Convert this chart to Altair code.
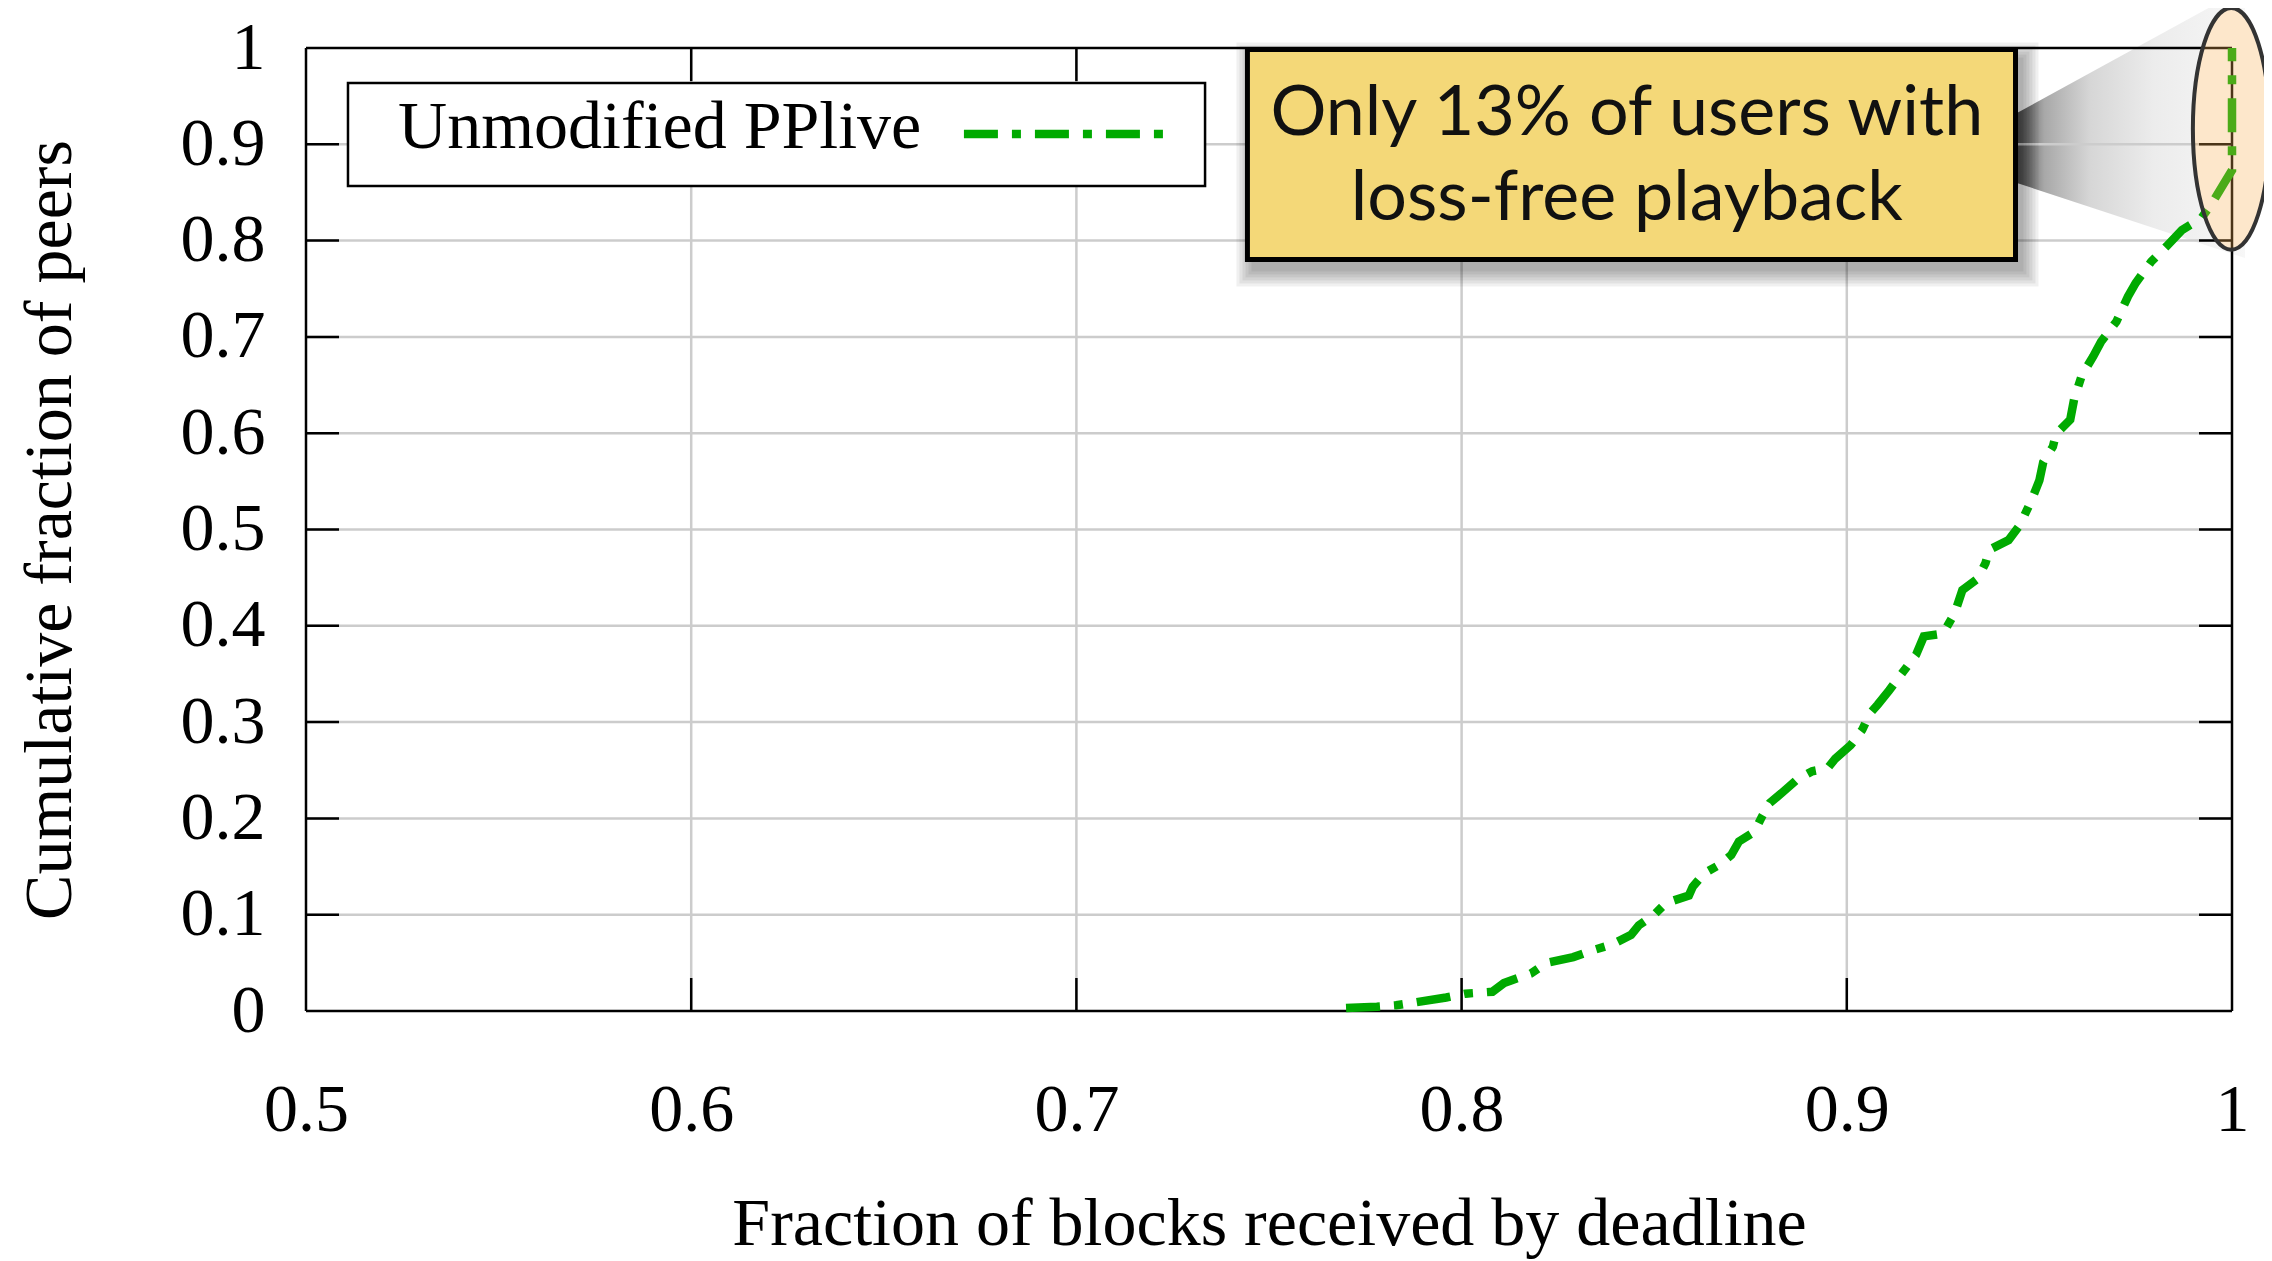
import altair as alt
import pandas as pd

# ---------------- data ----------------
cdf_x = [0.770, 0.778, 0.783, 0.788, 0.796, 0.801, 0.808, 0.811, 0.813, 0.818,
         0.822, 0.829, 0.834, 0.839, 0.844, 0.846, 0.850, 0.853, 0.859, 0.860,
         0.863, 0.867, 0.870, 0.872, 0.876, 0.878, 0.880, 0.883, 0.887, 0.891,
         0.895, 0.897, 0.901, 0.904, 0.906, 0.908, 0.911, 0.914, 0.918, 0.920,
         0.925, 0.928, 0.930, 0.934, 0.936, 0.937, 0.942, 0.945, 0.948, 0.950,
         0.951, 0.9535, 0.9543, 0.958, 0.959, 0.961, 0.964, 0.966, 0.970, 0.973,
         0.975, 0.979, 0.983, 0.987, 0.992, 0.995, 0.998, 1.000, 1.000]
cdf_y = [0.003, 0.0045, 0.006, 0.009, 0.014, 0.018, 0.020, 0.029, 0.032, 0.039,
         0.050, 0.056, 0.063, 0.069, 0.079, 0.089, 0.100, 0.112, 0.120, 0.129,
         0.143, 0.152, 0.162, 0.176, 0.186, 0.202, 0.216, 0.226, 0.240, 0.249,
         0.252, 0.262, 0.276, 0.292, 0.309, 0.318, 0.333, 0.349, 0.370, 0.389,
         0.392, 0.413, 0.437, 0.449, 0.465, 0.479, 0.489, 0.505, 0.531, 0.551,
         0.570, 0.586, 0.599, 0.614, 0.635, 0.660, 0.680, 0.695, 0.716, 0.742,
         0.756, 0.778, 0.794, 0.811, 0.823, 0.840, 0.860, 0.873, 1.000]

x_ticks = [0.5, 0.6, 0.7, 0.8, 0.9, 1.0]
y_ticks = [0.0, 0.1, 0.2, 0.3, 0.4, 0.5, 0.6, 0.7, 0.8, 0.9, 1.0]
series_label = "Unmodified PPlive"
x_title = "Fraction of blocks received by deadline"
y_title = "Cumulative fraction of peers"
note_lines = ["Only 13% of users with", "loss-free playback"]

# ---------------- layout ----------------
W, H = 1926, 963
XMIN, XMAX, YMIN, YMAX = 0.5, 1.0, 0.0, 1.0


def dx(px):
    return px * (XMAX - XMIN) / W


def dy(px):
    return px * (YMAX - YMIN) / H


SERIF = "Liberation Serif"
GREEN = "#00AA00"
DASH = [34, 14, 9, 14]
TICK = 33

xs = alt.Scale(domain=[XMIN, XMAX], nice=False, zero=False)
ys = alt.Scale(domain=[YMIN, YMAX], nice=False, zero=False)

AX = alt.Axis(
    values=x_ticks, format="~g", title=x_title, grid=False, ticks=False,
    domain=False, labelFlush=False, labelOverlap=False, labelPadding=65,
    labelFont=SERIF, labelFontSize=68, labelColor="black",
    titleFont=SERIF, titleFontSize=68, titleFontWeight="normal",
    titleColor="black", titleBaseline="alphabetic", titleY=233)
AY = alt.Axis(
    values=y_ticks, format="~g", title=y_title, grid=False, ticks=False,
    domain=False, labelFlush=False, labelOverlap=False, labelPadding=41,
    labelFont=SERIF, labelFontSize=68, labelColor="black",
    titleFont=SERIF, titleFontSize=68, titleFontWeight="normal",
    titleColor="black", titleBaseline="alphabetic", titleAngle=270,
    titleX=-236, titleY=H / 2)


def X(f="x"):
    return alt.X(f"{f}:Q", scale=xs, axis=AX)


def Y(f="y"):
    return alt.Y(f"{f}:Q", scale=ys, axis=AY)


# ---------------- rule tables (grid, frame, ticks) ----------------
grid_rows = []
for v in x_ticks[1:-1]:
    grid_rows.append(dict(x=v, x2=v, y=YMIN, y2=YMAX))
for v in y_ticks[1:-1]:
    grid_rows.append(dict(x=XMIN, x2=XMAX, y=v, y2=v))
grid_df = pd.DataFrame(grid_rows)

frame_rows = [
    dict(x=XMIN, x2=XMAX, y=YMIN, y2=YMIN),
    dict(x=XMIN, x2=XMAX, y=YMAX, y2=YMAX),
    dict(x=XMIN, x2=XMIN, y=YMIN, y2=YMAX),
    dict(x=XMAX, x2=XMAX, y=YMIN, y2=YMAX),
]
for v in x_ticks[1:-1]:
    frame_rows.append(dict(x=v, x2=v, y=YMIN, y2=YMIN + dy(TICK)))
    frame_rows.append(dict(x=v, x2=v, y=YMAX - dy(TICK), y2=YMAX))
for v in y_ticks[1:-1]:
    frame_rows.append(dict(x=XMIN, x2=XMIN + dx(TICK), y=v, y2=v))
    frame_rows.append(dict(x=XMAX - dx(TICK), x2=XMAX, y=v, y2=v))
frame_df = pd.DataFrame(frame_rows)

curve_df = pd.DataFrame({"x": cdf_x, "y": cdf_y, "i": range(len(cdf_x))})

# ---------------- layers ----------------
wedge_df = pd.DataFrame({"x": [0.94418, 1.00337], "y": [0.9325, 1.0623], "y2": [0.8598, 0.7819]})
wedge = alt.Chart(wedge_df).mark_area(
    color=alt.LinearGradient(
        gradient="linear", x1=0, x2=1, y1=0, y2=0,
        stops=[alt.GradientStop(color="#505050", offset=0),
               alt.GradientStop(color="#a8a8a8", offset=0.12),
               alt.GradientStop(color="#d6d6d6", offset=0.32),
               alt.GradientStop(color="#ececec", offset=0.6),
               alt.GradientStop(color="#f7f7f7", offset=1)]),
    opacity=1,
).encode(x=X(), y=Y(), y2="y2:Q")

ELL = ("M0,-1 C0.1748,-1 0.3173,-0.5523 0.3173,0 C0.3173,0.5523 0.1748,1 0,1 "
       "C-0.1748,1 -0.3173,0.5523 -0.3173,0 C-0.3173,-0.5523 -0.1748,-1 0,-1 Z")
ell_df = pd.DataFrame({"x": [0.9998], "y": [0.9161]})
ell_under = alt.Chart(ell_df).mark_point(
    shape=ELL, size=58420, filled=True, fill="white", fillOpacity=1,
    strokeWidth=0, opacity=1,
).encode(x=X(), y=Y())

grid = alt.Chart(grid_df).mark_rule(color="#cccccc", strokeWidth=2.5).encode(
    x=X(), x2="x2:Q", y=Y(), y2="y2:Q")
frame = alt.Chart(frame_df).mark_rule(color="black", strokeWidth=2.5).encode(
    x=X(), x2="x2:Q", y=Y(), y2="y2:Q")

curve = alt.Chart(curve_df).mark_line(
    color=GREEN, strokeWidth=8.5, strokeDash=DASH, interpolate="linear",
).encode(x=X(), y=Y(), order="i:Q")

ell_over = alt.Chart(ell_df).mark_point(
    shape=ELL, size=58420, filled=True, fill="#F8AF52", fillOpacity=0.3,
    stroke="#333333", strokeWidth=4, strokeOpacity=1, opacity=1,
).encode(x=X(), y=Y())

# legend
leg_box_df = pd.DataFrame({"x": [0.5109], "x2": [0.7334], "y": [0.9637], "y2": [0.8567]})
leg_box = alt.Chart(leg_box_df).mark_rect(
    fill="white", stroke="black", strokeWidth=2.5).encode(
    x=X(), x2="x2:Q", y=Y(), y2="y2:Q")
leg_text = alt.Chart(pd.DataFrame({"x": [0.5239], "y": [0.8962], "t": [series_label]})).mark_text(
    font=SERIF, fontSize=68, align="left", baseline="alphabetic", color="black",
).encode(x=X(), y=Y(), text="t:N")
leg_line = alt.Chart(pd.DataFrame({"x": [0.6708, 0.7225], "y": [0.9107, 0.9107]})).mark_line(
    color=GREEN, strokeWidth=8.5, strokeDash=DASH).encode(x=X(), y=Y())

# annotation box with shadow
BX1, BX2, BY1, BY2 = 0.7444, 0.9438, 0.9984, 0.7804
sh_rows = []
for e in [2, 5, 8, 11, 14, 17]:
    sh_rows.append(dict(x=BX1 + dx(6) - dx(e), x2=BX2 + dx(6) + dx(e),
                        y=BY1 - dy(10) + dy(e), y2=BY2 - dy(10) - dy(e)))
shadow = alt.Chart(pd.DataFrame(sh_rows)).mark_rect(
    fill="black", opacity=0.06).encode(x=X(), x2="x2:Q", y=Y(), y2="y2:Q")
box = alt.Chart(pd.DataFrame({"x": [BX1], "x2": [BX2], "y": [BY1], "y2": [BY2]})).mark_rect(
    fill="#F4D878", stroke="black", strokeWidth=5).encode(
    x=X(), x2="x2:Q", y=Y(), y2="y2:Q")
note = alt.Chart(pd.DataFrame({"x": [0.8429, 0.8429], "y": [0.9097, 0.8214], "t": note_lines})).mark_text(
    font="Lato", fontSize=70, align="center", baseline="alphabetic", color="#111111",
).encode(x=X(), y=Y(), text="t:N")

chart = alt.layer(
    wedge, ell_under, grid, frame, curve, ell_over,
    leg_box, leg_text, leg_line, shadow, box, note,
).properties(
    width=W, height=H,
    padding={"left": 298, "top": 40, "right": 32, "bottom": 253},
    autosize=alt.AutoSizeParams(type="none"),
    background="white",
).configure_view(stroke=None)

chart.save("out.html", embed_options={"renderer": "svg", "actions": False})
